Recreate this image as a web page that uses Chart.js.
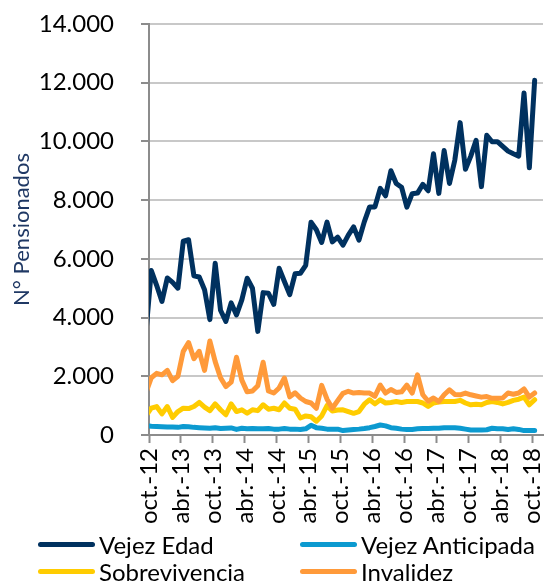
<!DOCTYPE html>
<html>
<head>
<meta charset="utf-8">
<script src="https://cdn.jsdelivr.net/npm/chart.js@4.4.1/dist/chart.umd.min.js"></script>
<style>
  body { margin: 0; background: #fff; }
  #wrap { position: relative; width: 547px; height: 583px; }
  #leyenda { position: absolute; left: 0; top: 531px; width: 547px; height: 52px;
             font-family: Lato, sans-serif; font-size: 24px; color: #000; }
  .item { position: absolute; display: flex; align-items: center; height: 27px; white-space: nowrap; }
  .linea { width: 57px; height: 5px; border-radius: 3px; margin-right: 4px; }
</style>
</head>
<body>
<div id="wrap">
  <canvas id="grafico" width="547" height="583"></canvas>
  <div id="leyenda"></div>
</div>
<script>
// meses con dato (sep.-12 queda recortado por el eje, que parte en oct.-12)
var meses = [
  'sep.-12','oct.-12','nov.-12','dic.-12',
  'ene.-13','feb.-13','mar.-13','abr.-13','may.-13','jun.-13','jul.-13','ago.-13','sep.-13','oct.-13','nov.-13','dic.-13',
  'ene.-14','feb.-14','mar.-14','abr.-14','may.-14','jun.-14','jul.-14','ago.-14','sep.-14','oct.-14','nov.-14','dic.-14',
  'ene.-15','feb.-15','mar.-15','abr.-15','may.-15','jun.-15','jul.-15','ago.-15','sep.-15','oct.-15','nov.-15','dic.-15',
  'ene.-16','feb.-16','mar.-16','abr.-16','may.-16','jun.-16','jul.-16','ago.-16','sep.-16','oct.-16','nov.-16','dic.-16',
  'ene.-17','feb.-17','mar.-17','abr.-17','may.-17','jun.-17','jul.-17','ago.-17','sep.-17','oct.-17','nov.-17','dic.-17',
  'ene.-18','feb.-18','mar.-18','abr.-18','may.-18','jun.-18','jul.-18','ago.-18','sep.-18','oct.-18'
];
var etiquetasEje = ['oct.-12','abr.-13','oct.-13','abr.-14','oct.-14','abr.-15','oct.-15',
                    'abr.-16','oct.-16','abr.-17','oct.-17','abr.-18','oct.-18'];
var diaDelDato = 14;   // cada dato va fechado a mitad de mes

var vejezEdad = [3500,
  5600,5100,4550,5350,5200,5000,6600,6650,5420,5380,4950,3930,
  5850,4250,3870,4500,4090,4600,5340,5000,3530,4850,4830,4450,
  5680,5230,4780,5490,5510,5780,7250,6990,6560,7250,6580,6740,
  6470,6810,7090,6640,7260,7770,7770,8400,8150,9000,8570,8440,
  7760,8220,8240,8540,8320,9580,8230,9690,8570,9360,10640,9050,
  9500,10040,8460,10210,9990,9990,9830,9670,9580,9500,11650,9100,
  12080];
var vejezAnticipada = [320,
  300,290,280,270,270,260,290,280,260,250,240,230,
  250,220,230,240,190,230,210,220,210,210,220,200,
  200,220,200,200,190,210,330,250,230,200,200,200,
  150,170,190,200,220,250,290,340,310,250,230,200,
  190,190,210,220,220,230,230,250,250,250,230,200,
  170,170,170,180,230,210,210,190,210,190,150,150,
  150];
var sobrevivencia = [655,
  915,970,720,970,600,800,915,900,970,1110,950,830,
  1060,860,690,1060,800,860,740,860,830,1030,880,910,
  860,1090,910,880,580,650,620,470,650,1000,820,850,
  860,800,740,800,1050,1200,1060,1200,1090,1110,1140,1110,
  1140,1140,1140,1090,970,1090,1120,1140,1140,1140,1180,1090,
  1030,1050,1030,1110,1140,1110,1060,1110,1180,1220,1290,1030,
  1200];
var invalidez = [1450,
  1950,2100,2050,2200,1850,2000,2850,3150,2600,2850,2200,3200,
  2500,1950,1650,1800,2650,1870,1470,1500,1680,2480,1500,1430,
  1600,1940,1300,1440,1260,1140,1090,910,1690,1220,910,1170,
  1420,1490,1430,1450,1430,1430,1320,1700,1430,1550,1450,1470,
  1700,1430,2050,1370,1150,1260,1140,1370,1540,1380,1370,1430,
  1370,1330,1290,1310,1250,1250,1260,1430,1390,1430,1570,1290,
  1430];

var origen = meses.indexOf(etiquetasEje[0]);

function puntos(valores) {
    return valores.map(function(v, i) {
        return {x: i - origen + (diaDelDato - 1) / 30, y: v};
    });
}

function miles(v) {
    return String(v).replace(/\B(?=(\d{3})+(?!\d))/g, '.');
}

var posTicks = etiquetasEje.map(function(l) { return meses.indexOf(l) - origen; });
var gris = '#8c8c8c';

function serie(label, valores, color, orden) {
    return {
        label: label,
        data: puntos(valores),
        borderColor: color,
        backgroundColor: color,
        borderWidth: 5,
        borderJoinStyle: 'round',
        borderCapStyle: 'round',
        pointRadius: 0,
        tension: 0,
        clip: 0,
        order: orden
    };
}

// sin margenes extra por las etiquetas: el area de trazado la fija el layout
function sinRelleno(s) {
    s.paddingLeft = 0;
    s.paddingRight = 0;
    s.paddingTop = 0;
    s.paddingBottom = 0;
}

var ctx = document.getElementById('grafico');
var chart = new Chart(ctx, {
    type: 'line',
    data: {
        datasets: [
            serie('Vejez Edad', vejezEdad, '#00315f', 3),
            serie('Vejez Anticipada', vejezAnticipada, '#0c9ad0', 2),
            serie('Sobrevivencia', sobrevivencia, '#ffcc00', 1),
            serie('Invalidez', invalidez, '#ff9a3a', 0)
        ]
    },
    options: {
        responsive: false,
        animation: false,
        devicePixelRatio: 1,
        layout: { padding: { left: 0, right: 4, top: 24, bottom: 0 } },
        plugins: { legend: { display: false }, tooltip: { enabled: false } },
        scales: {
            x: {
                type: 'linear',
                min: 0,
                max: 74,
                afterBuildTicks: function(s) {
                    s.ticks = posTicks.map(function(p) { return {value: p}; });
                },
                afterFit: function(s) { s.height = 148; sinRelleno(s); },
                ticks: {
                    autoSkip: false,
                    minRotation: 90,
                    maxRotation: 90,
                    padding: 5,
                    color: '#000',
                    font: { family: 'Lato', size: 24 },
                    callback: function(v) { return etiquetasEje[posTicks.indexOf(v)]; }
                },
                grid: { drawOnChartArea: false, drawTicks: true, tickLength: 8, tickColor: gris, tickWidth: 2 },
                border: { color: gris, width: 2 }
            },
            y: {
                min: 0,
                max: 14000,
                afterFit: function(s) { s.width = 149; sinRelleno(s); },
                ticks: {
                    stepSize: 2000,
                    padding: 27,
                    color: '#000',
                    font: { family: 'Lato', size: 24 },
                    callback: function(v) { return miles(v); }
                },
                grid: { color: '#c8c8c8', lineWidth: 2, tickLength: 8, tickColor: gris, tickWidth: 2 },
                border: { color: gris, width: 2 },
                title: {
                    display: true,
                    text: 'N° Pensionados',
                    color: '#1f3864',
                    font: { family: 'Lato', size: 22 },
                    padding: { top: 9, bottom: 0 }
                }
            }
        }
    }
});

// leyenda en dos columnas, como en el original
var leyenda = document.getElementById('leyenda');
var columnas = [38, 300];
chart.data.datasets.forEach(function(ds, i) {
    var item = document.createElement('div');
    item.className = 'item';
    item.style.left = columnas[i % 2] + 'px';
    item.style.top = (Math.floor(i / 2) * 27) + 'px';
    var linea = document.createElement('span');
    linea.className = 'linea';
    linea.style.background = ds.borderColor;
    var texto = document.createElement('span');
    texto.textContent = ds.label;
    item.appendChild(linea);
    item.appendChild(texto);
    leyenda.appendChild(item);
});
</script>
</body>
</html>
